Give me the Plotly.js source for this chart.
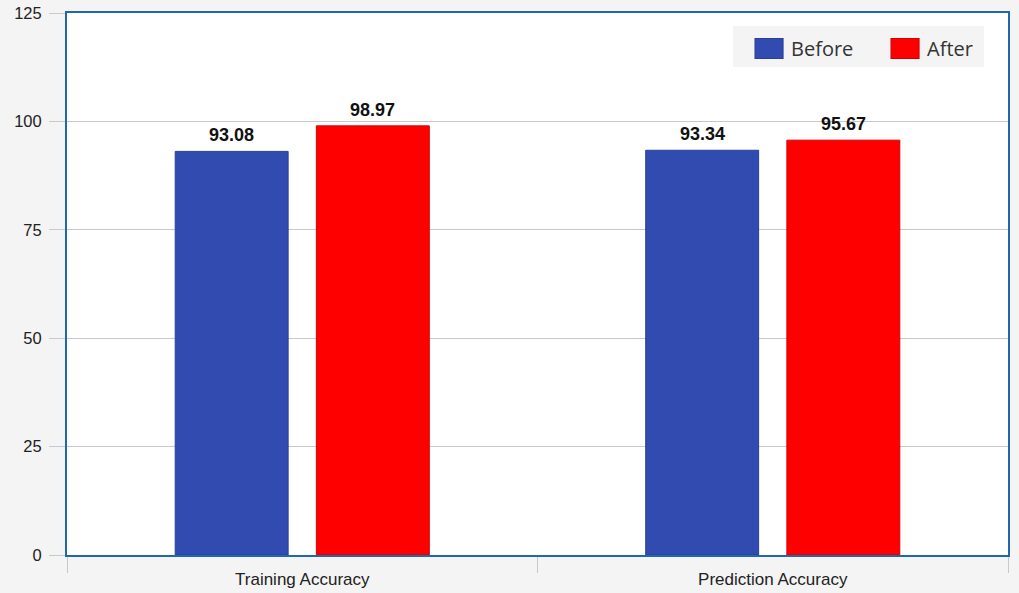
<!DOCTYPE html>
<html>
<head>
<meta charset="utf-8">
<script src="https://cdn.plot.ly/plotly-3.0.1.min.js"></script>
<style>
  html, body { margin: 0; padding: 0; background: #f4f4f4; }
  #chart { width: 1019px; height: 593px; }
</style>
</head>
<body>
<div id="chart"></div>
<script>
// Accuracy before and after, per metric
const categories = ['Training Accuracy', 'Prediction Accuracy'];
const beforeValues = [93.08, 93.34];
const afterValues = [98.97, 95.67];
const seriesNames = ['Before', 'After'];
const seriesColors = ['#314bb0', '#ff0000'];
const yTicks = [0, 25, 50, 75, 100, 125];

const W = 1019, H = 593;
const margin = { l: 67, r: 11, t: 13, b: 38, pad: 0 };
const bargap = 0.40, bargroupgap = 0.2;

const series = [beforeValues, afterValues];

const traces = series.map((vals, s) => ({
  type: 'bar', name: seriesNames[s], x: categories, y: vals,
  marker: { color: seriesColors[s], line: { color: s ? '#d40000' : '#2a3f96', width: 1 } },
  hoverinfo: 'x+y'
}));

// value labels above each bar, offset sideways to sit over its bar within the group
const plotW = W - margin.l - margin.r;
const slotW = (plotW / categories.length) * (1 - bargap) / series.length;
const annotations = [];
series.forEach((vals, s) => {
  vals.forEach((v, i) => {
    annotations.push({
      x: categories[i], y: v, xref: 'x', yref: 'y',
      xshift: (s - (series.length - 1) / 2) * slotW,
      yshift: 4, yanchor: 'bottom', showarrow: false,
      text: v.toFixed(2),
      font: { family: 'Liberation Sans, Arial, sans-serif', size: 18, color: '#111111', weight: 'bold' }
    });
  });
});

const layout = {
  width: W, height: H,
  margin: margin,
  paper_bgcolor: '#f4f4f4',
  plot_bgcolor: '#ffffff',
  barmode: 'group',
  bargap: bargap,
  bargroupgap: bargroupgap,
  font: { family: 'Liberation Sans, Arial, sans-serif', size: 15, color: '#333333' },
  xaxis: {
    type: 'category',
    showline: true, linecolor: '#2068ad', linewidth: 2, mirror: true,
    ticks: 'outside', tickson: 'boundaries', ticklen: 16, tickcolor: '#c4cad2', tickwidth: 1,
    ticklabelstandoff: 8,
    tickfont: { family: 'Liberation Sans, Arial, sans-serif', size: 17, color: '#222222' },
    showgrid: false, zeroline: false
  },
  yaxis: {
    range: [0, 125],
    tickvals: yTicks,
    showline: true, linecolor: '#2068ad', linewidth: 2, mirror: true,
    ticks: 'outside', ticklen: 16, tickcolor: '#c4cad2', tickwidth: 1,
    ticklabelstandoff: 4,
    tickfont: { family: 'Liberation Sans, Arial, sans-serif', size: 16.5, color: '#222222' },
    showgrid: true, gridcolor: '#c8c8c8', gridwidth: 1,
    zeroline: false
  },
  legend: {
    orientation: 'h',
    xref: 'paper', yref: 'paper',
    x: 0.7078, y: 0.9705, xanchor: 'left', yanchor: 'top',
    bgcolor: 'rgba(0,0,0,0)',
    font: { family: 'Open Sans, sans-serif', size: 20, color: '#333333' },
    itemwidth: 48,
    entrywidth: 73,
    traceorder: 'normal'
  },
  // light panel behind the legend entries
  shapes: [{
    type: 'rect', xref: 'paper', yref: 'paper', layer: 'below',
    x0: 0.7078, x1: 0.9745, y0: 0.9004, y1: 0.976,
    fillcolor: '#f4f4f4', line: { width: 0 }
  }],
  annotations: annotations,
  showlegend: true
};

Plotly.newPlot('chart', traces, layout, { displayModeBar: false, staticPlot: true }).then(gd => {
  // enlarge the legend swatches into wide rectangles
  gd.querySelectorAll('.legend .legendpoints path').forEach(p => {
    const t = p.getAttribute('transform') || '';
    p.setAttribute('transform', t + ' translate(7,0) scale(2.33,1.67)');
    p.style.strokeWidth = '0.5px';
  });
});
</script>
</body>
</html>
